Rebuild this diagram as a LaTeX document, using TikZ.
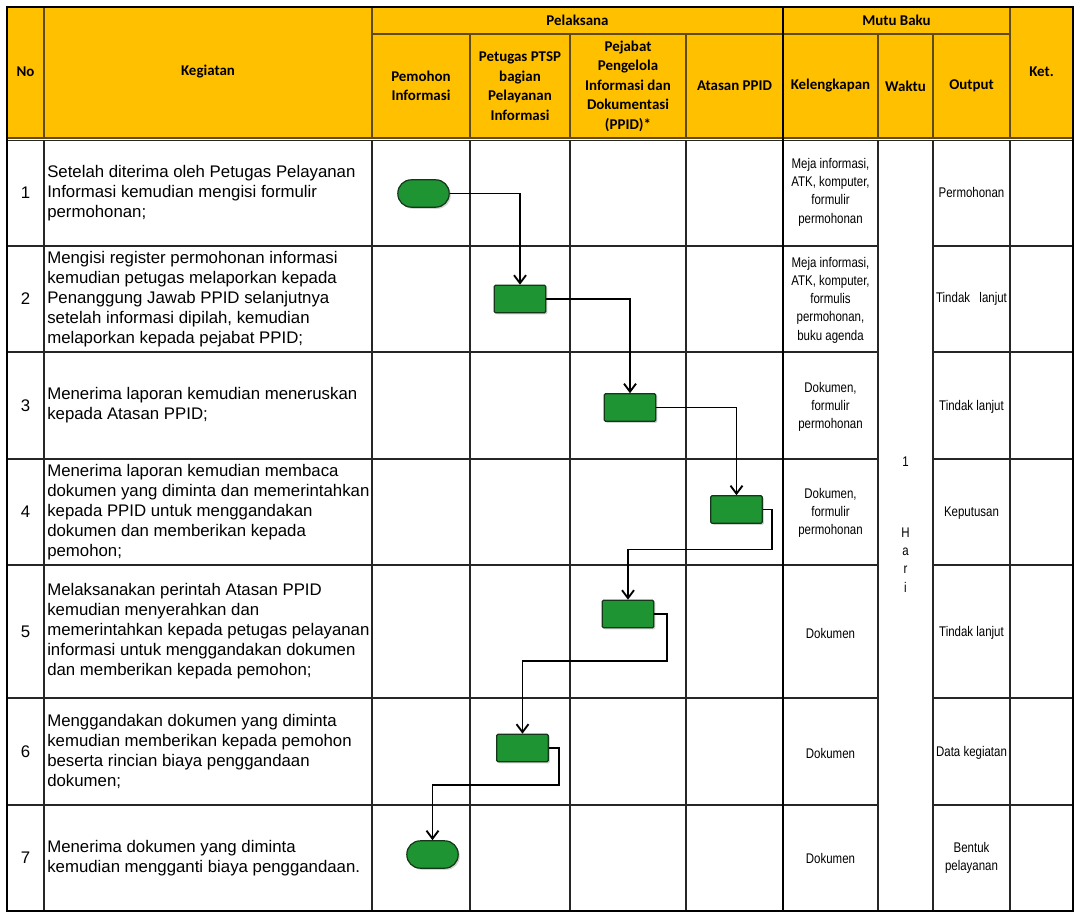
\documentclass[tikz,border=0pt]{standalone}
\usepackage{fontspec}
\setmainfont{Liberation Sans}
\newfontfamily\hdrfont{Carlito}
\newfontfamily\narrowfont[FakeStretch=0.82]{Liberation Sans}
\usepackage{tikz}
\usetikzlibrary{arrows.meta, shadows}
\definecolor{hdrgold}{RGB}{255,192,0}
\definecolor{hdrline}{RGB}{95,75,20}
\definecolor{flowgreen}{RGB}{30,148,50}
\definecolor{flowedge}{RGB}{20,55,25}
\tikzstyle{arrow}=[-{Straight Barb[length=6pt,width=9pt,line width=1.4pt]}, line width=1.4pt, color=black]

\begin{document}
\begin{tikzpicture}[x=0.75pt, y=-0.75pt,
  hdr/.style={font=\hdrfont\bfseries\fontsize{11.2}{14.6}\selectfont, align=center, inner sep=0pt},
  keg/.style={font=\fontsize{12.6}{15}\selectfont, align=left, anchor=west, inner sep=0pt},
  num/.style={font=\fontsize{12.6}{15}\selectfont, inner sep=0pt},
  mutu/.style={font=\narrowfont\fontsize{10.5}{13.7}\selectfont, align=center, inner sep=0pt},
  gridline/.style={line width=1pt, color=black!85},
  hline/.style={line width=1pt, color=hdrline},
  flow/.style={draw=flowedge, line width=0.9pt, fill=flowgreen, inner sep=0pt,
               minimum width=38.5pt, minimum height=20.5pt,
               drop shadow={opacity=0.35, shadow xshift=1.2pt, shadow yshift=-1.2pt}},
  term/.style={flow, rounded corners=10pt},
  proc/.style={flow, rounded corners=0.8pt}
]
\useasboundingbox (0,0) rectangle (1079,916);

% Header band
\fill[hdrgold] (7,7) rectangle (1073,138);
\draw[hline] (372,34) -- (1010,34);
\foreach \x in {44,372,1010} \draw[hline] (\x,7) -- (\x,138);
\foreach \x in {470,570,686,878,933} \draw[hline] (\x,34) -- (\x,138);
\draw[hline] (7,138) -- (1073,138);

% Body grid
\draw[gridline] (7,140.5) -- (1073,140.5);
\foreach \x in {44,372,470,570,686,878,933,1010} \draw[gridline] (\x,140) -- (\x,911);
\foreach \y in {246,352,459,565,698,805} {
  \draw[gridline] (7,\y) -- (878,\y);
  \draw[gridline] (933,\y) -- (1073,\y);
}
\draw[line width=2.2pt] (783,7) -- (783,911);
\draw[line width=2pt] (7,7) rectangle (1073,911);

% Header texts
\node[hdr] (h_no) at (25.5,72) {No};
\node[hdr] (h_keg) at (208,72) {Kegiatan};
\node[hdr] (h_pel) at (577.5,20) {Pelaksana};
\node[hdr] (h_mutu) at (896.5,20) {Mutu Baku};
\node[hdr] (h_ket) at (1041.5,72) {Ket.};
\node[hdr] (h_pemohon) at (421,86) {Pemohon\\Informasi};
\node[hdr] (h_petugas) at (520,86) {Petugas PTSP\\bagian\\Pelayanan\\Informasi};
\node[hdr] (h_ppid) at (628,86) {Pejabat\\Pengelola\\Informasi dan\\Dokumentasi\\(PPID)*};
\node[hdr] (h_atasan) at (734.5,86) {Atasan PPID};
\node[hdr] (h_kel) at (830.5,86) {Kelengkapan};
\node[hdr] (h_waktu) at (905.5,86) {Waktu};
\node[hdr] (h_out) at (971.5,86) {Output};

% Row numbers
\node[num] (n1) at (25.5,193) {1};
\node[num] (n2) at (25.5,299) {2};
\node[num] (n3) at (25.5,405.5) {3};
\node[num] (n4) at (25.5,512) {4};
\node[num] (n5) at (25.5,631.5) {5};
\node[num] (n6) at (25.5,751.5) {6};
\node[num] (n7) at (25.5,858) {7};

% Kegiatan
\node[keg] (k1) at (47,193) {Setelah diterima oleh Petugas Pelayanan\\Informasi kemudian mengisi formulir\\permohonan;};
\node[keg] (k2) at (47,299) {Mengisi register permohonan informasi\\kemudian petugas melaporkan kepada\\Penanggung Jawab PPID selanjutnya\\setelah informasi dipilah, kemudian\\melaporkan kepada pejabat PPID;};
\node[keg] (k3) at (47,405.5) {Menerima laporan kemudian meneruskan\\kepada Atasan PPID;};
\node[keg] (k4) at (47,512) {Menerima laporan kemudian membaca\\dokumen yang diminta dan memerintahkan\\kepada PPID untuk menggandakan\\dokumen dan memberikan kepada\\pemohon;};
\node[keg] (k5) at (47,631.5) {Melaksanakan perintah Atasan PPID\\kemudian menyerahkan dan\\memerintahkan kepada petugas pelayanan\\informasi untuk menggandakan dokumen\\dan memberikan kepada pemohon;};
\node[keg] (k6) at (47,751.5) {Menggandakan dokumen yang diminta\\kemudian memberikan kepada pemohon\\beserta rincian biaya penggandaan\\dokumen;};
\node[keg] (k7) at (47,858) {Menerima dokumen yang diminta\\kemudian mengganti biaya penggandaan.};

% Kelengkapan
\node[mutu] (m1) at (830.5,192) {Meja informasi,\\ATK, komputer,\\formulir\\permohonan};
\node[mutu] (m2) at (830.5,300) {Meja informasi,\\ATK, komputer,\\formulis\\permohonan,\\buku agenda};
\node[mutu] (m3) at (830.5,407) {Dokumen,\\formulir\\permohonan};
\node[mutu] (m4) at (830.5,513) {Dokumen,\\formulir\\permohonan};
\node[mutu] (m5) at (830.5,633) {Dokumen};
\node[mutu] (m6) at (830.5,753) {Dokumen};
\node[mutu] (m7) at (830.5,858) {Dokumen};

% Waktu
\node[mutu] (w1) at (905.5,462) {1};
\node[mutu] (w2) at (905.5,560) {H\\a\\r\\i};

% Output
\node[mutu] (o1) at (971.5,192) {Permohonan};
\node[mutu] (o2) at (971.5,299) {Tindak\hspace{7pt}lanjut};
\node[mutu] (o3) at (971.5,407) {Tindak lanjut};
\node[mutu] (o4) at (971.5,513) {Keputusan};
\node[mutu] (o5) at (971.5,633) {Tindak lanjut};
\node[mutu] (o6) at (971.5,753) {Data kegiatan};
\node[mutu] (o7) at (971.5,858) {Bentuk\\pelayanan};

% Flow symbols
\node[term] (s1) at (423.5,193.5) {};
\node[proc] (s2) at (520,299) {};
\node[proc] (s3) at (630,407.5) {};
\node[proc] (s4) at (736.5,509.5) {};
\node[proc] (s5) at (628,614) {};
\node[proc] (s6) at (522.5,748) {};
\node[term] (s7) at (432.5,854.5) {};

\draw[arrow] (s1.east) -| (s2.north);
\draw[arrow] (s2.east) -| (s3.north);
\draw[arrow] (s3.east) -| (s4.north);
\draw[arrow] (s4.east) -| ++(9,40) -| (s5.north);
\draw[arrow] (s5.east) -| ++(13,47) -| (s6.north);
\draw[arrow] (s6.east) -| ++(10,37) -| (s7.north);
\end{tikzpicture}
\end{document}
